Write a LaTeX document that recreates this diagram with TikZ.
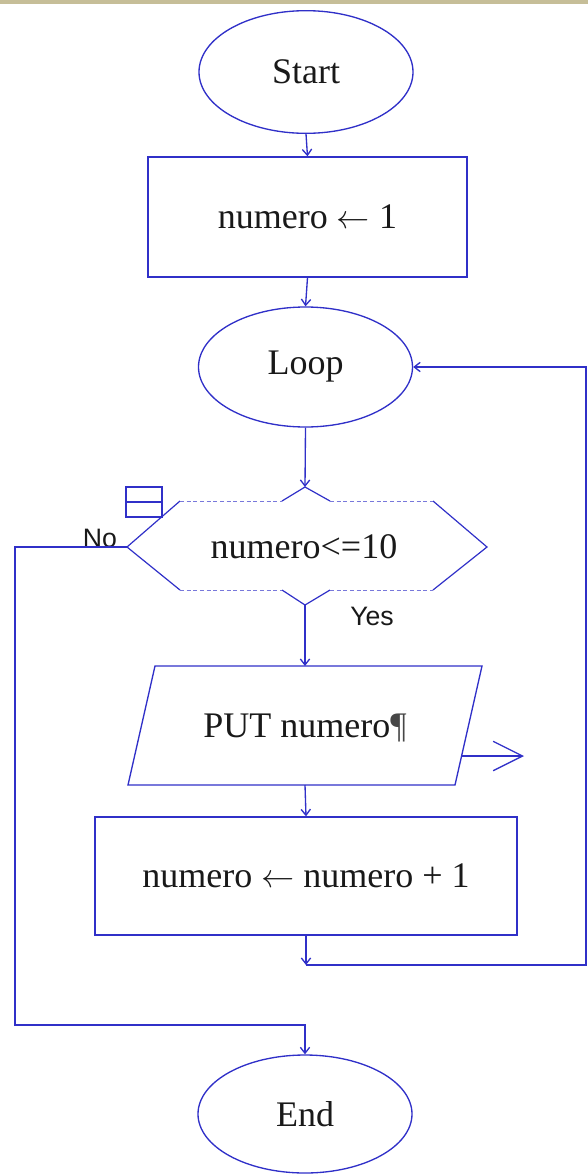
\documentclass[tikz,border=0pt]{standalone}
\usepackage{fontspec}
\setmainfont{Liberation Serif}
\newfontfamily\labelfont{Liberation Sans}
\usetikzlibrary{shapes.geometric,arrows.meta}
\definecolor{flowblue}{RGB}{48,48,200}
\definecolor{band}{RGB}{198,190,152}
\definecolor{ink}{RGB}{25,25,25}
\definecolor{markgray}{RGB}{70,70,70}
\newcommand{\assignarrow}{\(\leftarrow\)}
\begin{document}
\begin{tikzpicture}[x=0.75pt,y=-0.75pt,
  every node/.style={text=ink,font=\fontsize{27}{32}\selectfont},
  outline/.style={draw=flowblue,line width=1pt},
  terminal/.style={outline,ellipse,inner sep=0pt,minimum width=160.5pt},
  process/.style={outline,rectangle,inner sep=0pt},
  link/.style={draw=flowblue,line width=1pt,-{Straight Barb[length=4.5pt,width=7pt]}},
  tag/.style={text=ink,font=\labelfont\fontsize{20}{24}\selectfont}]
\useasboundingbox (0,0) rectangle (588,1174);
\fill[band] (0,0) rectangle (588,4);

% terminals and processes
\node[terminal,minimum height=92pt] (start) at (306,72) {Start};
\node[process,minimum width=239.25pt,minimum height=90pt] (init) at (307.5,217) {numero \assignarrow{} 1};
\node[terminal,minimum height=90pt] (loop) at (305.5,367) {Loop};
\node[process,minimum width=316.5pt,minimum height=88.5pt] (incr) at (306,876) {numero \assignarrow{} numero + 1};
\node[terminal,minimum height=88.5pt] (finish) at (305,1114) {End};

% decision hexagon
\coordinate (dtop) at (305,487);
\coordinate (dbot) at (305,605);
\coordinate (dleft) at (127,547);
\coordinate (dright) at (487,547);
\draw[outline,line width=0.9pt] (282,501) -- (dtop) -- (330,501);
\draw[outline,line width=0.9pt] (433,501) -- (dright) -- (433,590);
\draw[outline,line width=0.9pt] (330,590) -- (dbot) -- (282,590);
\draw[outline,line width=0.9pt] (180,590) -- (dleft) -- (180,501);
\draw[flowblue!65,line width=0.6pt,dash pattern=on 3pt off 2pt]
  (180,501) -- (282,501) (330,501) -- (433,501)
  (180,590) -- (282,590) (330,590) -- (433,590);
\node (cond) at (304,547) {numero<=10};
\draw[outline,line width=1.4pt] (126,487) rectangle (162,517);
\draw[flowblue,line width=1.4pt] (126,502) -- (162,502);

% output parallelogram
\coordinate (pTop) at (305,666);
\coordinate (pBot) at (305,785);
\coordinate (pOut) at (462,756);
\coordinate (pArrow) at (524,756);
\draw[outline] (155,666) -- (482,666) -- (455,785) -- (128,785) -- cycle;
\node (put) at (305,728) {PUT numero\textcolor{markgray}{¶}};
\draw[draw=flowblue,line width=1pt,-{Straight Barb[length=22pt,width=22pt]}] (pOut) -- (pArrow);

% labels
\node[tag] (nolabel) at (100,538) {No};
\node[tag] (yeslabel) at (372,616) {Yes};

% connectors
\draw[link] (start.south) -- (init.north);
\draw[link] (init.south) -- (loop.north);
\draw[link] (loop.south) -- (dtop);
\draw[link] (dbot) -- (pTop);
\draw[link] (pBot) -- (incr.north);
\coordinate (join) at (306,965);
\draw[link] (incr.south) -- (join);
\coordinate (rback) at (586,965);
\coordinate (rtop) at (586,367);
\draw[link] (join) -- (rback) -- (rtop) -- (loop.east);
\coordinate (lout) at (15,547);
\coordinate (lbot) at (15,1025);
\coordinate (lend) at (305,1025);
\draw[link] (dleft) -- (lout) -- (lbot) -- (lend) -- (finish.north);
\end{tikzpicture}
\end{document}
